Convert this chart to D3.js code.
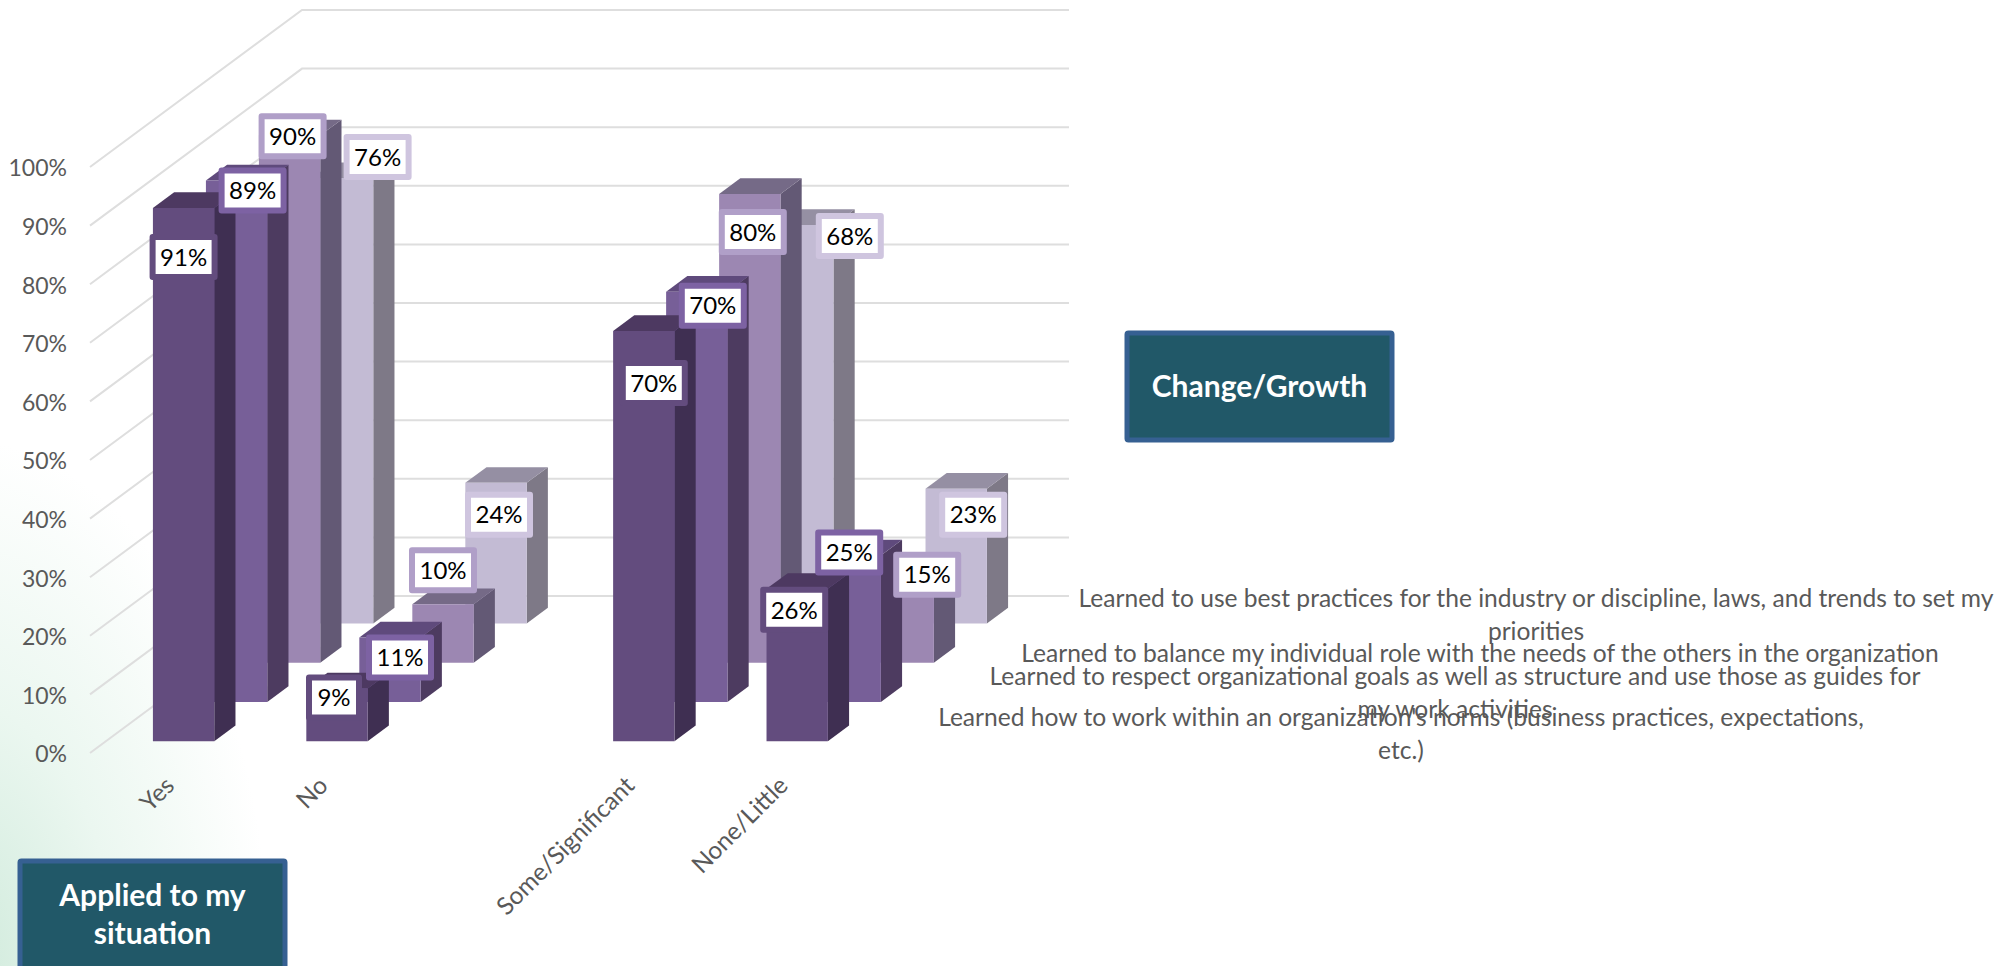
<!DOCTYPE html>
<html>
<head>
<meta charset="utf-8">
<script src="https://cdn.jsdelivr.net/npm/d3@7"></script>
<style>
  html, body { margin: 0; padding: 0; background: #fff; }
  svg { display: block; }
  text { font-family: Lato, "Open Sans", sans-serif; }
</style>
</head>
<body>
<div id="container"></div>
<script>
/* DATA */
const categories = ["Yes", "No", "", "Some/Significant", "None/Little"];
const seriesKeys = ["s1", "s2", "s3", "s4"];
const s1Values = [0.91, 0.09, null, 0.70, 0.26];
const s2Values = [0.89, 0.11, null, 0.70, 0.25];
const s3Values = [0.90, 0.10, null, 0.80, 0.15];
const s4Values = [0.76, 0.24, null, 0.68, 0.23];
const seriesValues = [s1Values, s2Values, s3Values, s4Values];
const yTicks = [0, 0.1, 0.2, 0.3, 0.4, 0.5, 0.6, 0.7, 0.8, 0.9, 1];
const legendNames = [
  ["Learned to use best practices for the industry or discipline, laws, and trends to set my", "priorities"],
  ["Learned to balance my individual role with the needs of the others in the organization"],
  ["Learned to respect organizational goals as well as structure and use those as guides for", "my work activities"],
  ["Learned how to work within an organization's norms (business practices, expectations,", "etc.)"]
];

/* CONSTANTS */
const width = 2011;
const height = 966;
const depthX = 212; // how far the floor runs back, in px
const depthY = -157;
const front = ["#634c7e", "#775f98", "#9c87b2", "#c3bbd4"];
const side = ["#3f2f52", "#4d3b60", "#635975", "#7e7987"];
const top3d = ["#4d3961", "#5f4a7c", "#756a87", "#958fa3"];
const labelBorder = ["#634c7e", "#7d62a3", "#b09fc8", "#cfc5df"];
// labels were dragged by hand in the original, so nudge each off its bar top
const labelNudge = [
  [[0, 49], [-3, 9], null, [10, 52], [-3, 21]],
  [[16, 10], [10, 20], null, [16, 14], [-1, -3]],
  [[3, 1], [0, -34], null, [3, 38], [24, 0]],
  [[35, -21], [3, 32], null, [47, 11], [17, 26]]
];

/* SCALES */
const xScale = d3.scaleBand().domain(categories).range([91, 858]).paddingInner(0.6).paddingOuter(0.3);
const yScale = d3.scaleLinear().domain([0, 1]).range([753, 167]);
const zScale = d3.scaleBand().domain(seriesKeys).range([0, 1]).paddingInner(0.6).paddingOuter(0.3);

// front plane point pushed back by z (0..1)
const pt = (x, y, z) => [x + z * depthX, y + z * depthY];
const poly = pts => pts.map(p => p.join(",")).join(" ");

/* HTML ELEMENTS */
const svg = d3.select("#container").append("svg")
  .attr("width", width)
  .attr("height", height);

// Background tint, bottom left corner
const defs = svg.append("defs");
const tint = defs.append("radialGradient").attr("id", "tint")
  .attr("gradientUnits", "userSpaceOnUse")
  .attr("cx", -40).attr("cy", 966).attr("r", 310)
  .attr("gradientTransform", "translate(-40,966) scale(1,1.7) translate(40,-966)");
tint.append("stop").attr("offset", "0%").attr("stop-color", "#cfeadb");
tint.append("stop").attr("offset", "50%").attr("stop-color", "#ebf7f0");
tint.append("stop").attr("offset", "100%").attr("stop-color", "#ffffff");
svg.append("rect").attr("width", width).attr("height", height).attr("fill", "url(#tint)");

// Gridlines: wall then back plane
svg.append("g").selectAll("polyline")
  .data(yTicks)
  .join("polyline")
  .attr("fill", "none")
  .attr("stroke", "#dedede")
  .attr("stroke-width", 2)
  .attr("points", d => poly([
    pt(90, yScale(d), 0),
    pt(90, yScale(d), 1),
    pt(857, yScale(d), 1)
  ]));

// Bars, back series first
const bars = [];
seriesKeys.forEach((key, s) => {
  categories.forEach((cat, c) => {
    if (seriesValues[s][c] !== null) bars.push({ s, c, key, cat, value: seriesValues[s][c] });
  });
});
bars.sort((a, b) => b.s - a.s || a.c - b.c);

const barG = svg.append("g").selectAll("g")
  .data(bars)
  .join("g");

const corners = d => {
  const x0 = xScale(d.cat), x1 = x0 + xScale.bandwidth();
  const y0 = yScale(0), y1 = yScale(d.value);
  const z0 = zScale(d.key), z1 = z0 + zScale.bandwidth();
  return { x0, x1, y0, y1, z0, z1 };
};

barG.append("polygon")
  .attr("fill", d => side[d.s])
  .attr("points", d => {
    const k = corners(d);
    return poly([pt(k.x1, k.y0, k.z0), pt(k.x1, k.y0, k.z1), pt(k.x1, k.y1, k.z1), pt(k.x1, k.y1, k.z0)]);
  });
barG.append("polygon")
  .attr("fill", d => top3d[d.s])
  .attr("points", d => {
    const k = corners(d);
    return poly([pt(k.x0, k.y1, k.z0), pt(k.x1, k.y1, k.z0), pt(k.x1, k.y1, k.z1), pt(k.x0, k.y1, k.z1)]);
  });
barG.append("polygon")
  .attr("fill", d => front[d.s])
  .attr("points", d => {
    const k = corners(d);
    return poly([pt(k.x0, k.y0, k.z0), pt(k.x1, k.y0, k.z0), pt(k.x1, k.y1, k.z0), pt(k.x0, k.y1, k.z0)]);
  });

// Y axis
const yAxis = d3.axisLeft(yScale).tickValues(yTicks).tickFormat(d3.format(".0%")).tickSize(0).tickPadding(0);
svg.append("g")
  .attr("transform", "translate(67,1.5)")
  .call(yAxis)
  .call(g => g.select(".domain").remove())
  .selectAll("text")
  .attr("font-size", 23)
  .attr("fill", "#595959")
  .style("font-family", "Lato");

// X axis
const xAxis = d3.axisBottom(xScale).tickSize(0).tickPadding(0);
svg.append("g")
  .attr("transform", "translate(-4,775)")
  .call(xAxis)
  .call(g => g.select(".domain").remove())
  .selectAll("text")
  .attr("font-size", 24.5)
  .attr("fill", "#595959")
  .style("font-family", "Lato")
  .attr("text-anchor", "end")
  .attr("dy", "0.7em")
  .attr("transform", "rotate(-45)");

// Data labels
const labels = svg.append("g").selectAll("g")
  .data(bars)
  .join("g")
  .attr("transform", d => {
    const k = corners(d);
    const p = pt((k.x0 + k.x1) / 2, k.y1, k.z0);
    const n = labelNudge[d.s][d.c];
    return `translate(${p[0] + n[0]},${p[1] + n[1]})`;
  });
labels.append("rect")
  .attr("x", d => d.value < 0.095 ? -25 : -31)
  .attr("y", -20)
  .attr("width", d => d.value < 0.095 ? 50 : 62)
  .attr("height", 40)
  .attr("fill", "#fff")
  .attr("stroke", d => labelBorder[d.s])
  .attr("stroke-width", 6)
  .attr("stroke-linejoin", "round");
labels.append("text")
  .attr("text-anchor", "middle")
  .attr("dy", "0.36em")
  .attr("font-size", 24)
  .attr("fill", "#000")
  .text(d => d3.format(".0%")(d.value));

// Legend, overlapping like the original
const legendTop = [598, 653, 676, 717];
const legendCx = [1536, 1480, 1455, 1401];
const legend = svg.append("g").selectAll("text")
  .data(legendNames)
  .join("text")
  .attr("text-anchor", "middle")
  .attr("font-size", 24.6)
  .attr("fill", "#595959");
legend.selectAll("tspan")
  .data((d, i) => d.map((line, j) => ({ line, j, i })))
  .join("tspan")
  .attr("x", d => legendCx[d.i])
  .attr("y", d => legendTop[d.i] + d.j * 33)
  .attr("dy", "0.35em")
  .text(d => d.line);

// Title boxes
function titleBox(x, y, w, h, lines, lineY) {
  const g = svg.append("g");
  g.append("rect")
    .attr("x", x).attr("y", y).attr("width", w).attr("height", h)
    .attr("rx", 1.5)
    .attr("fill", "#215868")
    .attr("stroke", "#366092")
    .attr("stroke-width", 5);
  g.selectAll("text")
    .data(lines)
    .join("text")
    .attr("x", x + w / 2)
    .attr("y", (d, i) => lineY + i * 38)
    .attr("dy", "0.35em")
    .attr("text-anchor", "middle")
    .attr("font-size", 30)
    .attr("font-weight", 700)
    .attr("fill", "#fff")
    .text(d => d);
}
titleBox(1127, 333, 265, 107, ["Change/Growth"], 386);
titleBox(20, 861, 265, 120, ["Applied to my", "situation"], 895);
</script>
</body>
</html>
